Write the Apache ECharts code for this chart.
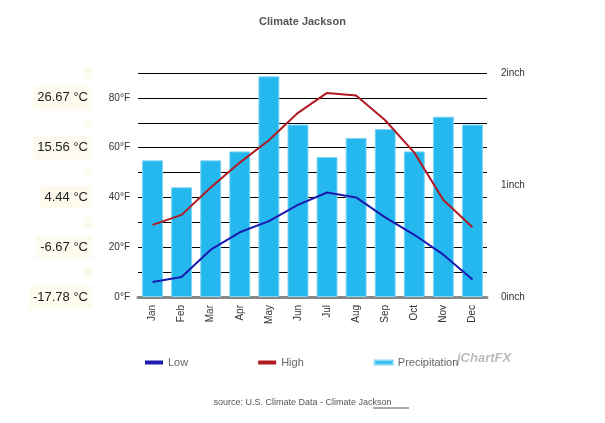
<!DOCTYPE html>
<html><head><meta charset="utf-8">
<script src="https://cdn.jsdelivr.net/npm/echarts@6/dist/echarts.min.js"></script>
<style>body{margin:0}#c{width:605px;height:423px}</style></head>
<body><div id="c"></div>
<script>
const months=['Jan','Feb','Mar','Apr','May','Jun','Jul','Aug','Sep','Oct','Nov','Dec'];
const low=[6,8,19,26,30.5,37,42,40,32,25,17,7];
const high=[29,33,44,54,63,74,82,81,71,58,39,28];
const precip=[1.22,0.98,1.22,1.30,1.97,1.54,1.25,1.42,1.50,1.30,1.61,1.54];
const chart=echarts.init(document.getElementById('c'));
const F='Liberation Sans, Arial, sans-serif';
chart.setOption({
  animation:false,
  title:{text:'Climate Jackson',left:'center',top:11,textStyle:{fontSize:11,fontWeight:'bold',color:'#555',fontFamily:F}},
  legend:{top:352,left:140,itemGap:70,textStyle:{fontSize:11,color:'#666',fontFamily:F},
    data:[{name:'Low',icon:'rect',itemStyle:{color:'#1a1ab0'}},{name:'High',icon:'rect',itemStyle:{color:'#b01a22'}},{name:'Precipitation',icon:'rect'}],
    itemWidth:18,itemHeight:4},
  grid:{left:138,right:118,top:73,bottom:126},
  xAxis:{type:'category',data:months,axisTick:{show:false},
    axisLine:{lineStyle:{color:'#888',width:3}},
    axisLabel:{rotate:90,fontSize:10,color:'#333',fontFamily:F}},
  yAxis:[
    {type:'value',min:0,max:90,interval:10,
      axisLabel:{fontSize:10,color:'#333',fontFamily:F,formatter:v=>v%20===0?v+'°F':''},
      splitLine:{lineStyle:{color:'#000',width:1}},axisLine:{show:false},axisTick:{show:false}},
    {type:'value',min:0,max:2,interval:1,position:'right',
      axisLabel:{fontSize:10,color:'#333',fontFamily:F,formatter:v=>v+'inch',margin:14},
      splitLine:{show:false},axisLine:{show:false},axisTick:{show:false}},
    {type:'value',min:0,max:90,interval:10,position:'left',offset:38,
      axisLabel:{fontSize:13,color:'#222',fontFamily:F,backgroundColor:'#fcfbee',padding:[5,4],
        formatter:v=>v%20===0&&v<=80?((v-32)*5/9).toFixed(2)+' °C':''},
      splitLine:{show:false},axisLine:{show:false},axisTick:{show:false}}
  ],
  series:[
    {name:'Precipitation',type:'bar',yAxisIndex:1,data:precip,barWidth:'72%',
      itemStyle:{color:'#25b8ef',borderColor:'#7fd6f5',borderWidth:1},z:1},
    {name:'Low',type:'line',data:low,symbol:'none',lineStyle:{color:'#1a1ab0',width:2},z:3},
    {name:'High',type:'line',data:high,symbol:'none',lineStyle:{color:'#b01a22',width:2},z:3}
  ],
  graphic:[
    {type:'text',left:'center',top:398,style:{text:'source: U.S. Climate Data - Climate Jackson',fontSize:9,fill:'#555',fontFamily:F}},
    {type:'line',shape:{x1:373,y1:408,x2:409,y2:408},style:{stroke:'#555',lineWidth:1}},
    {type:'text',left:457,top:352,style:{text:'jChartFX',fontSize:13,fontStyle:'italic',fontWeight:'bold',fill:'#bbb',fontFamily:F}}
  ]
});
</script></body></html>
